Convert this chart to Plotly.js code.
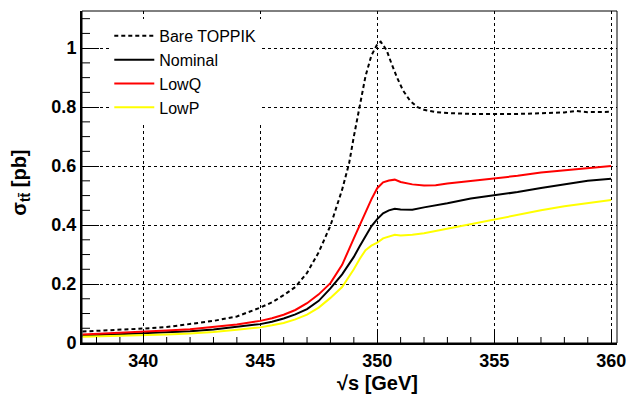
<!DOCTYPE html>
<html>
<head>
<meta charset="utf-8">
<script src="https://cdn.plot.ly/plotly-3.0.1.min.js"></script>
<style>html,body{margin:0;padding:0;background:#fff;}#chart{width:626px;height:404px;}</style>
</head>
<body>
<div id="chart"></div>
<script>
// --- data (sqrt(s) in GeV, cross section in pb) ---
const seriesNames = ["Bare TOPPIK", "Nominal", "LowQ", "LowP"];

const bareEnergy = [337.4, 338, 339, 340, 341, 342, 343, 344, 345, 345.5, 346, 346.5, 347, 347.5, 348, 348.5, 348.8, 349, 349.25, 349.5, 349.75, 349.9, 350, 350.15, 350.4, 350.6, 350.85, 351.1, 351.4, 351.7, 352, 352.5, 353, 354, 355, 356, 357, 358, 358.5, 359, 360];
const bareXsec   = [0.039, 0.041, 0.044, 0.049, 0.054, 0.064, 0.075, 0.090, 0.120, 0.138, 0.162, 0.190, 0.238, 0.308, 0.398, 0.52, 0.61, 0.70, 0.805, 0.905, 0.975, 1.0, 1.013, 1.022, 0.993, 0.950, 0.900, 0.857, 0.822, 0.801, 0.791, 0.783, 0.780, 0.777, 0.776, 0.777, 0.779, 0.782, 0.787, 0.783, 0.784];

const energy = [337.4, 338, 339, 340, 341, 342, 343, 344, 345, 345.5, 346, 346.5, 347, 347.5, 348, 348.5, 349, 349.25, 349.5, 349.75, 350, 350.25, 350.5, 350.75, 351, 351.5, 352, 352.5, 353, 354, 355, 356, 357, 358, 359, 360];
const nominalXsec = [0.025, 0.027, 0.029, 0.033, 0.036, 0.040, 0.046, 0.054, 0.064, 0.072, 0.083, 0.097, 0.115, 0.143, 0.185, 0.233, 0.292, 0.328, 0.362, 0.396, 0.420, 0.440, 0.450, 0.455, 0.453, 0.452, 0.460, 0.466, 0.474, 0.490, 0.501, 0.512, 0.526, 0.538, 0.550, 0.557];
const lowQXsec    = [0.029, 0.031, 0.034, 0.038, 0.042, 0.047, 0.054, 0.063, 0.075, 0.084, 0.096, 0.112, 0.135, 0.165, 0.203, 0.265, 0.355, 0.400, 0.445, 0.487, 0.525, 0.545, 0.551, 0.554, 0.546, 0.538, 0.534, 0.535, 0.541, 0.549, 0.557, 0.567, 0.578, 0.585, 0.593, 0.600];
const lowPXsec    = [0.021, 0.022, 0.024, 0.026, 0.029, 0.032, 0.037, 0.045, 0.053, 0.060, 0.068, 0.080, 0.096, 0.120, 0.153, 0.190, 0.250, 0.285, 0.315, 0.330, 0.340, 0.355, 0.362, 0.367, 0.365, 0.367, 0.372, 0.380, 0.387, 0.402, 0.420, 0.434, 0.450, 0.464, 0.475, 0.485];

const xRange = [337.38, 360.25];
const yRange = [0, 1.126];

const FONT = "Liberation Sans, Arial, Helvetica, sans-serif";

const traces = [
  {x: bareEnergy, y: bareXsec, name: seriesNames[0], mode: "lines",
   line: {color: "#000000", width: 2, dash: "4px,3px"}},
  {x: energy, y: nominalXsec, name: seriesNames[1], mode: "lines",
   line: {color: "#000000", width: 2}},
  {x: energy, y: lowQXsec, name: seriesNames[2], mode: "lines",
   line: {color: "#ff0000", width: 2}},
  {x: energy, y: lowPXsec, name: seriesNames[3], mode: "lines",
   line: {color: "#ffff00", width: 2}}
];

// minor tick marks (axis decoration), every 1 GeV and every 0.05 pb
const PLOT_W = 626 - 82 - 9, PLOT_H = 404 - 11 - 61;
const minorShapes = [];
for (let v = Math.ceil(xRange[0]); v <= xRange[1]; v++) {
  if (v % 5 !== 0) minorShapes.push({type: "line", xref: "x", yref: "paper", x0: v, x1: v, y0: 0, y1: 6 / PLOT_H,
    line: {color: "#000", width: 1}, layer: "above"});
}
for (let k = 1; k * 0.05 < yRange[1]; k++) {
  if (k % 4 !== 0) minorShapes.push({type: "line", xref: "paper", yref: "y", x0: 0, x1: 8 / PLOT_W, y0: k * 0.05, y1: k * 0.05,
    line: {color: "#000", width: 1}, layer: "above"});
}

const layout = {
  width: 626, height: 404,
  margin: {l: 82, r: 9, t: 11, b: 61},
  paper_bgcolor: "#ffffff", plot_bgcolor: "#ffffff",
  font: {family: FONT, color: "#000"},
  showlegend: true,
  legend: {
    x: 0.051, y: 0.976, xanchor: "left", yanchor: "top",
    bgcolor: "#ffffff", borderwidth: 0,
    font: {family: FONT, size: 16, color: "#000"},
    itemwidth: 40, tracegroupgap: 0
  },
  xaxis: {
    range: xRange,
    tick0: 340, dtick: 5,
    tickfont: {family: FONT, size: 18, weight: "bold"},
    ticks: "inside", ticklen: 11, tickwidth: 1, tickcolor: "#000",
    ticklabeloverflow: "allow",
    showline: true, linewidth: 2, linecolor: "#000", mirror: false,
    showgrid: true, gridcolor: "#000000", gridwidth: 1, griddash: "dot",
    zeroline: false
  },
  yaxis: {
    range: yRange,
    tick0: 0, dtick: 0.2,
    tickfont: {family: FONT, size: 18, weight: "bold"},
    ticks: "inside", ticklen: 17, tickwidth: 1, tickcolor: "#000",
    ticklabeloverflow: "allow",
    showline: true, linewidth: 2, linecolor: "#000", mirror: false,
    showgrid: true, gridcolor: "#000000", gridwidth: 1, griddash: "dot",
    zeroline: false
  },
  shapes: minorShapes.concat([
    {type: "rect", xref: "paper", yref: "paper", x0: 0, x1: 1, y0: 0, y1: 1,
     line: {color: "#000", width: 1}, fillcolor: "rgba(0,0,0,0)", layer: "above"}
  ]),
  annotations: [
    {text: "√s [GeV]", xref: "paper", yref: "paper", x: (377 - 82) / 535, y: -0.12,
     xanchor: "center", yanchor: "middle", showarrow: false,
     font: {family: FONT, size: 20, weight: "bold", color: "#000"}},
    {text: "σ<sub>tt̄</sub> [pb]", xref: "paper", yref: "paper", x: (21 - 82) / 535, y: (343.4 - 183) / 332.4,
     xanchor: "center", yanchor: "middle", showarrow: false, textangle: -90,
     font: {family: FONT, size: 20, weight: "bold", color: "#000"}}
  ]
};

Plotly.newPlot("chart", traces, layout, {displayModeBar: false, staticPlot: true});
</script>
</body>
</html>
